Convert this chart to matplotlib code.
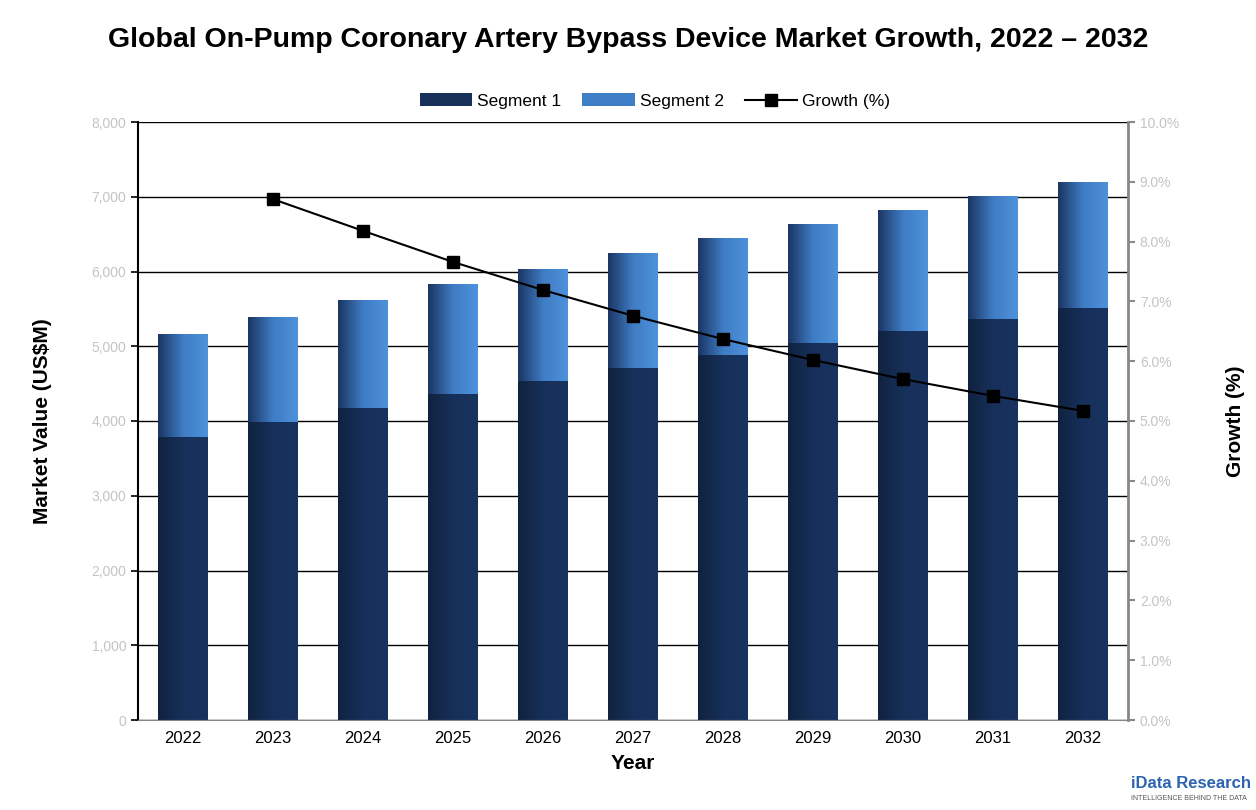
import matplotlib
matplotlib.use("Agg")
import matplotlib.pyplot as plt
import numpy as np
from matplotlib.colors import LinearSegmentedColormap

plt.rcParams['font.family'] = ['Liberation Sans', 'DejaVu Sans']

years = ['2022','2023','2024','2025','2026','2027','2028','2029','2030','2031','2032']
seg1 = [3786, 3987, 4174, 4361, 4535, 4709, 4883, 5043, 5204, 5365, 5512]
total = [5164, 5391, 5619, 5833, 6033, 6247, 6448, 6635, 6823, 7010, 7197]
seg2 = [t - s for t, s in zip(total, seg1)]
growth_years = years[1:]
growth = [8.71, 8.18, 7.66, 7.19, 6.76, 6.37, 6.02, 5.70, 5.42, 5.17]
left_ticks = [0, 1000, 2000, 3000, 4000, 5000, 6000, 7000, 8000]
right_ticks = list(range(0, 11))

fig = plt.figure(figsize=(12.56, 8.1), dpi=100)
ax = fig.add_axes([138/1256, 1-720/810, 990/1256, 598/810])
x = np.arange(len(years))
w = 0.555
b1 = ax.bar(x, seg1, w, color='#16305a', zorder=2, label='Segment 1')
b2 = ax.bar(x, seg2, w, bottom=seg1, color='#3f7fc8', zorder=2, label='Segment 2')

cm1 = LinearSegmentedColormap.from_list('c1', ['#10223f', '#17305a', '#18335f'])
cm2 = LinearSegmentedColormap.from_list('c2', ['#1a3562', '#3f7cc4', '#4e92dc'])
grad = np.linspace(0, 1, 256).reshape(1, -1)
for bars, cm in ((b1, cm1), (b2, cm2)):
    for p in bars:
        x0, y0 = p.get_x(), p.get_y()
        im = ax.imshow(grad, cmap=cm, aspect='auto', zorder=2.5,
                       extent=[x0, x0 + p.get_width(), y0, y0 + p.get_height()])
        im.set_clip_path(p)

ax.set_xlim(-0.5, len(years) - 0.5)
ax.set_ylim(0, 8000)
ax.set_yticks(left_ticks)
ax.set_yticklabels([f'{v:,}' for v in left_ticks], color='#c4c4c4', fontsize=10)
ax.grid(axis='y', color='black', linewidth=1, zorder=1)
ax.set_xticks(x)
ax.set_xticklabels(years, fontsize=12)
ax.tick_params(axis='x', length=0, pad=8)
ax.tick_params(axis='y', length=5, direction='out', width=1.2)
for s in ['top', 'right']:
    ax.spines[s].set_visible(False)
ax.spines['left'].set_linewidth(1.5)
ax.spines['bottom'].set_color('#888888')
ax.set_ylabel('Market Value (US$M)', fontsize=15, fontweight='bold', labelpad=28)
ax.set_xlabel('Year', fontsize=15, fontweight='bold', labelpad=6)

ax2 = ax.twinx()
ax2.set_ylim(0, 10)
ax2.set_yticks(right_ticks)
ax2.set_yticklabels([f'{v:.1f}%' for v in right_ticks], color='#c4c4c4', fontsize=10)
ax2.tick_params(axis='y', length=5, width=1.5, color='#888888')
for s in ['top', 'left', 'bottom']:
    ax2.spines[s].set_visible(False)
ax2.spines['right'].set_color('#888888')
ax2.spines['right'].set_linewidth(2)
gx = [years.index(y) for y in growth_years]
ln, = ax2.plot(gx, growth, color='black', marker='s', markersize=8, linewidth=1.5, label='Growth (%)', zorder=5)
ax2.set_ylabel('Growth (%)', fontsize=15, fontweight='bold', labelpad=34)

fig.legend([b1, b2, ln], ['Segment 1', 'Segment 2', 'Growth (%)'], loc='center',
           bbox_to_anchor=(655/1256, 1-101/810), ncol=3, frameon=False, fontsize=12.5,
           handlelength=3, columnspacing=1.2, handletextpad=0.3)
fig.text(0.5, 1-40/810, 'Global On-Pump Coronary Artery Bypass Device Market Growth, 2022 – 2032',
         ha='center', va='center', fontsize=20.5, fontweight='bold')
fig.text(1131/1256, 1-784/810, 'iData Research', fontsize=12, color='#2a63b0', fontweight='bold', va='center')
fig.text(1131/1256, 1-799/810, 'INTELLIGENCE BEHIND THE DATA', fontsize=5, color='#555555', va='center')
fig.savefig('out.png', dpi=100)
